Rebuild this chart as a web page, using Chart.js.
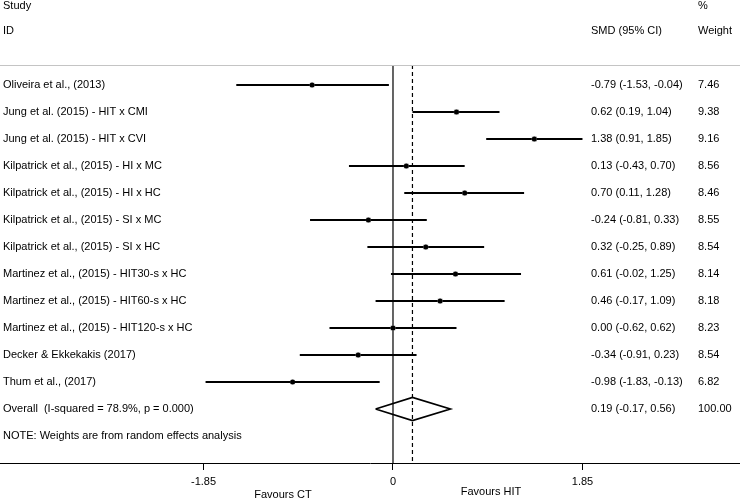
<!DOCTYPE html>
<html><head><meta charset="utf-8">
<script src="https://cdn.jsdelivr.net/npm/chart.js@4/dist/chart.umd.min.js"></script>
<style>html,body{margin:0;padding:0;background:#fff}canvas{display:block}</style>
</head><body>
<canvas id="c" width="740" height="499"></canvas>
<script>
const studies = [
  "Oliveira et al., (2013)",
  "Jung et al. (2015) - HIT x CMI",
  "Jung et al. (2015) - HIT x CVI",
  "Kilpatrick et al., (2015) - HI x MC",
  "Kilpatrick et al., (2015) - HI x HC",
  "Kilpatrick et al., (2015) - SI x MC",
  "Kilpatrick et al., (2015) - SI x HC",
  "Martinez et al., (2015) - HIT30-s x HC",
  "Martinez et al., (2015) - HIT60-s x HC",
  "Martinez et al., (2015) - HIT120-s x HC",
  "Decker & Ekkekakis (2017)",
  "Thum et al., (2017)"
];
const smd    = [-0.79, 0.62, 1.38, 0.13, 0.70, -0.24, 0.32, 0.61, 0.46, 0.00, -0.34, -0.98];
const ciLow  = [-1.53, 0.19, 0.91, -0.43, 0.11, -0.81, -0.25, -0.02, -0.17, -0.62, -0.91, -1.83];
const ciHigh = [-0.04, 1.04, 1.85, 0.70, 1.28, 0.33, 0.89, 1.25, 1.09, 0.62, 0.23, -0.13];
const weights = [7.46, 9.38, 9.16, 8.56, 8.46, 8.55, 8.54, 8.14, 8.18, 8.23, 8.54, 6.82];

const overallLabel = "Overall  (I-squared = 78.9%, p = 0.000)";
const overallSMD = 0.19, overallLow = -0.17, overallHigh = 0.56, overallWeight = 100.00;
const noteText = "NOTE: Weights are from random effects analysis";
const xTicks = [-1.85, 0, 1.85];
const favourLeft = "Favours CT", favourRight = "Favours HIT";

const X_MIN = -3.837, X_MAX = 3.388;
const Y_MIN = -0.741, Y_MAX = 14.0;
const overallRow = studies.length;
const noteRow = studies.length + 1;

const FONT = '"Liberation Sans", Arial, sans-serif';
const TXT = '#000';
const f2 = v => v.toFixed(2);

const datasets = [];
// CI lines
studies.forEach((s, i) => {
  datasets.push({
    data: [{x: ciLow[i], y: i}, {x: ciHigh[i], y: i}],
    showLine: true, borderColor: '#000', borderWidth: 1.9, pointRadius: 0, order: 3
  });
});
// weight boxes
datasets.push({
  data: smd.map((v, i) => ({x: v, y: i})),
  pointStyle: 'rect', pointRadius: weights.map(w => Math.sqrt(w) * 1.2),
  backgroundColor: '#bdbdbd', borderWidth: 0, order: 1
});
// point estimates
datasets.push({
  data: smd.map((v, i) => ({x: v, y: i})),
  pointStyle: 'circle', pointRadius: 2.5,
  backgroundColor: '#000', borderWidth: 0, order: 0
});
// null line
datasets.push({
  data: [{x: 0, y: Y_MIN}, {x: 0, y: Y_MAX}],
  showLine: true, borderColor: '#000', borderWidth: 1.2, pointRadius: 0, order: 4
});
// overall dashed line
datasets.push({
  data: [{x: overallSMD, y: Y_MIN}, {x: overallSMD, y: Y_MAX}],
  showLine: true, borderColor: '#000', borderWidth: 1.2, borderDash: [4, 3], pointRadius: 0, order: 4
});
// diamond
const dh = 0.43;
datasets.push({
  data: [
    {x: overallLow, y: overallRow}, {x: overallSMD, y: overallRow - dh},
    {x: overallHigh, y: overallRow}, {x: overallSMD, y: overallRow + dh},
    {x: overallLow, y: overallRow}
  ],
  showLine: true, borderColor: '#000', borderWidth: 1.7, pointRadius: 0, tension: 0, order: 2
});

const textPlugin = {
  id: 'forestText',
  afterDraw(chart) {
    const ctx = chart.ctx, ys = chart.scales.y, ca = chart.chartArea;
    ctx.save();
    ctx.font = '11px ' + FONT;
    ctx.fillStyle = TXT;
    ctx.textBaseline = 'middle';
    ctx.textAlign = 'left';
    // header
    ctx.fillText('Study', 3, 6);
    ctx.fillText('ID', 3, 31);
    ctx.fillText('%', 698, 6);
    ctx.fillText('SMD (95% CI)', 591, 31);
    ctx.fillText('Weight', 698, 31);
    // header rule
    ctx.strokeStyle = '#c4c4c4';
    ctx.lineWidth = 1;
    ctx.beginPath();
    ctx.moveTo(0, ca.top + 0.5); ctx.lineTo(chart.width, ca.top + 0.5);
    ctx.stroke();
    // rows
    studies.forEach((s, i) => {
      const y = ys.getPixelForValue(i);
      ctx.fillText(s, 3, y);
      ctx.fillText(`${f2(smd[i])} (${f2(ciLow[i])}, ${f2(ciHigh[i])})`, 591, y);
      ctx.fillText(f2(weights[i]), 698, y);
    });
    const yo = ys.getPixelForValue(overallRow);
    ctx.fillText(overallLabel, 3, yo);
    ctx.fillText(`${f2(overallSMD)} (${f2(overallLow)}, ${f2(overallHigh)})`, 591, yo);
    ctx.fillText(f2(overallWeight), 698, yo);
    ctx.fillText(noteText, 3, ys.getPixelForValue(noteRow));
    // favours labels
    ctx.textAlign = 'center';
    ctx.fillText(favourLeft, 283, 495);
    ctx.fillText(favourRight, 491, 492);
    ctx.restore();
  }
};

new Chart(document.getElementById('c'), {
  type: 'scatter',
  data: { datasets },
  options: {
    responsive: false,
    animation: false,
    layout: { autoPadding: false, padding: { top: 65, left: 0, right: 0, bottom: 0 } },
    plugins: { legend: { display: false }, tooltip: { enabled: false } },
    scales: {
      x: {
        type: 'linear', min: X_MIN, max: X_MAX,
        afterBuildTicks: s => { s.ticks = xTicks.map(v => ({ value: v })); },
        afterFit: s => { s.height = 36; },
        border: { display: true, color: '#000', width: 1 },
        grid: { display: true, drawOnChartArea: false, drawTicks: true, tickLength: 7, color: '#000', lineWidth: 1 },
        ticks: {
          padding: 5, color: TXT, font: { family: FONT, size: 11 },
          maxRotation: 0, autoSkip: false,
          callback: v => (v === 0 ? '0' : v.toFixed(2))
        }
      },
      y: { type: 'linear', reverse: true, min: Y_MIN, max: Y_MAX, display: false }
    }
  },
  plugins: [textPlugin]
});
</script>
</body></html>
